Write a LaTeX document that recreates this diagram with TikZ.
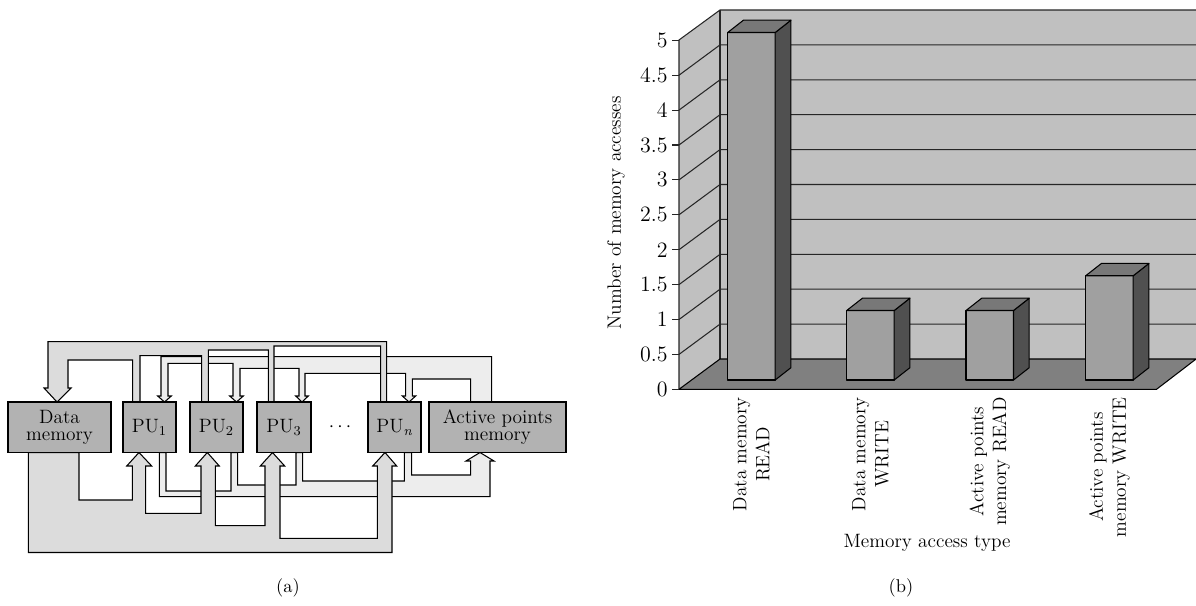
\documentclass[tikz,border=0pt]{standalone}
\usepackage{fontspec}
\usepackage{tikz}
\usetikzlibrary{calc}
\definecolor{cinzaCaixa}{RGB}{178,178,178}
\definecolor{cinzaDados}{RGB}{220,220,220}
\definecolor{cinzaAtivos}{RGB}{237,237,237}
\definecolor{cinzaParede}{RGB}{192,192,192}
\definecolor{cinzaPiso}{RGB}{128,128,128}
\definecolor{cinzaFrente}{RGB}{160,160,160}
\definecolor{cinzaTopo}{RGB}{120,120,120}
\definecolor{cinzaLado}{RGB}{80,80,80}
\tikzset{
  caixa/.style={rectangle, draw=black, line width=0.6pt, fill=cinzaCaixa,
                inner sep=0pt, minimum height=1.01cm, align=center,
                font=\fontsize{11}{9.5}\selectfont},
  busDados/.style={draw=black, line width=0.6pt, fill=cinzaDados},
  busAtivos/.style={draw=black, line width=0.6pt, fill=cinzaAtivos},
  grade/.style={draw=black!85, line width=0.6pt},
  face/.style={draw=black, line width=0.6pt, line join=round},
  rotulo/.style={font=\fontsize{11}{13}\selectfont, align=center},
  marca/.style={font=\fontsize{12.5}{14}\selectfont},
  legenda/.style={font=\fontsize{10.5}{12}\selectfont},
}

\begin{document}
\begin{tikzpicture}[x=0.02cm, y=-0.02cm]
  \useasboundingbox (0,0) rectangle (1196,605);
  % (a)
  \draw[busAtivos] (491.7,402) -- (491.7,356.7) -- (161,356.7) -- (161,396) -- (157.7,396)
    -- (164.5,402) -- (171.3,396) -- (168,396) -- (168,363.3) -- (233,363.3) -- (233,396)
    -- (229.7,396) -- (236.5,402) -- (243.3,396) -- (240,396) -- (240,368.3) -- (299,368.3)
    -- (299,396) -- (295.7,396) -- (302,402) -- (308.3,396) -- (305,396) -- (305,373.3)
    -- (405.7,373.3) -- (405.7,396) -- (402.3,396) -- (409,402) -- (415.7,396) -- (412.3,396)
    -- (412.3,379) -- (470.7,379) -- (470.7,402) -- cycle;
  \draw[busDados] (57,402) -- (71,388) -- (68,388) -- (68,360) -- (132.7,360) -- (132.7,402)
    -- (140,402) -- (140,355.7) -- (201.7,355.7) -- (201.7,402) -- (208.3,402) -- (208.3,350)
    -- (268.3,350) -- (268.3,402) -- (274,402) -- (274,346) -- (380.7,346) -- (380.7,402)
    -- (386.7,402) -- (386.7,341.7) -- (48,341.7) -- (48,388) -- (44,388) -- cycle;
  \draw[busAtivos] (159.3,452.5) -- (159.3,496.7) -- (490,496.7) -- (490,461) -- (494,461)
    -- (480,452.5) -- (466,461) -- (470.7,461) -- (470.7,475) -- (411.7,475) -- (411.7,452.5)
    -- (404.3,452.5) -- (404.3,481) -- (302.7,481) -- (302.7,452.5) -- (296,452.5) -- (296,485)
    -- (237.7,485) -- (237.7,452.5) -- (231,452.5) -- (231,491) -- (166,491) -- (166,452.5) -- cycle;
  \draw[busDados] (28.3,452.5) -- (28.3,552.5) -- (392,552.5) -- (392,466) -- (396.7,466)
    -- (385,452.5) -- (372.7,466) -- (377.3,466) -- (377.3,538.3) -- (280,538.3) -- (280,466)
    -- (284.7,466) -- (272.5,452.5) -- (260.3,466) -- (265,466) -- (265,525.7) -- (215.3,525.7)
    -- (215.3,466) -- (219.3,466) -- (207.3,452.5) -- (195.3,466) -- (201,466) -- (201,513.3)
    -- (145.7,513.3) -- (145.7,466) -- (151.7,466) -- (139,452.5) -- (126.7,466) -- (132.3,466)
    -- (132.3,500) -- (79,500) -- (79,452.5) -- cycle;
  \node[caixa, minimum width=2.06cm] (dados) at (59.5,427.25) {Data\\memory};
  \node[caixa, minimum width=1.06cm] (pu1) at (149.5,427.25) {PU\textsubscript{1}};
  \node[caixa, minimum width=1.06cm] (pu2) at (216.5,427.25) {PU\textsubscript{2}};
  \node[caixa, minimum width=1.08cm] (pu3) at (284,427.25) {PU\textsubscript{3}};
  \node[font=\fontsize{11}{12}\selectfont] (pontos) at (340,427.25) {$\cdots$};
  \node[caixa, minimum width=1.06cm] (pun) at (394.5,427.25) {PU\textsubscript{\itshape n}};
  \node[caixa, minimum width=2.74cm] (ativos) at (497.5,427.25) {Active points\\memory};
  \node[legenda] (capA) at (288,588) {(a)};
  % (b)
  \fill[cinzaParede] (720,10) -- (1200,10) -- (1200,359) -- (720,359) -- cycle;
  \fill[cinzaParede] (679,389.3) -- (679,40) -- (720,10) -- (720,359) -- cycle;
  \foreach \k in {1,...,9}
    \draw[grade] (679,389.3-34.9*\k) -- (720,359-34.9*\k) -- (1200,359-34.9*\k);
  \draw[grade] (679,389.3) -- (679,40) -- (720,10) -- (1200,10);
  \draw[grade] (720,359) -- (720,10);
  \draw[face, fill=cinzaPiso] (679,389.3) -- (720,359) -- (1200,359) -- (1200,356)
    -- (1156.5,389.3) -- cycle;
  \foreach \k/\r in {0/0,1/0.5,2/1,3/1.5,4/2,5/2.5,6/3,7/3.5,8/4,9/4.5,10/5} {
    \draw[grade] (672,389.3-34.9*\k) -- (679,389.3-34.9*\k);
    \node[marca, anchor=east, inner sep=0pt] (tick\k) at (668,389.3-34.9*\k) {\r};
  }
  \foreach \x/\v/\n/\t in {727.7/5/b1/{Data memory\\READ}, 846.7/1/b2/{Data memory\\WRITE},
      966/1/b3/{Active points\\memory READ}, 1085.7/1.5/b4/{Active points\\memory WRITE}} {
    \pgfmathsetmacro{\topo}{380-69.5*\v}
    \draw[face, fill=cinzaFrente] (\x,380) rectangle (\x+47.5,\topo);
    \draw[face, fill=cinzaLado] (\x+47.5,380) -- (\x+47.5,\topo) -- (\x+63.2,\topo-12.3)
      -- (\x+63.2,367.7) -- cycle;
    \draw[face, fill=cinzaTopo] (\x,\topo) -- (\x+15.7,\topo-12.3) -- (\x+63.2,\topo-12.3)
      -- (\x+47.5,\topo) -- cycle;
    \node[rotulo, rotate=90, anchor=east, inner sep=0pt] (\n) at (\x+23.75,397) {\t};
  }
  \node[rotulo, rotate=90] (eixoY) at (616,213) {Number of memory accesses};
  \node[rotulo] (eixoX) at (927,543) {Memory access type};
  \node[legenda] (capB) at (901,588) {(b)};
\end{tikzpicture}
\end{document}
